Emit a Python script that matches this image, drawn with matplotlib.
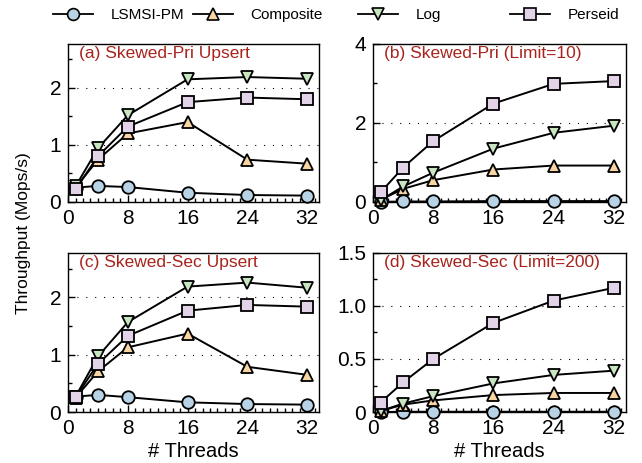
import matplotlib
matplotlib.use("Agg")
import matplotlib.pyplot as plt
from matplotlib.ticker import MultipleLocator, FuncFormatter
from matplotlib.lines import Line2D

plt.rcParams['font.family'] = ['Liberation Sans', 'DejaVu Sans']

# --- data ---
threads = [1, 4, 8, 16, 24, 32]
series_names = ['LSMSI-PM', 'Composite', 'Log', 'Perseid']

a_lsmsi = [0.25, 0.28, 0.26, 0.16, 0.12, 0.11]
a_comp = [0.25, 0.74, 1.20, 1.40, 0.74, 0.67]
a_log = [0.27, 0.94, 1.52, 2.15, 2.19, 2.16]
a_pers = [0.22, 0.80, 1.32, 1.75, 1.83, 1.80]

b_lsmsi = [0.0, 0.01, 0.01, 0.02, 0.02, 0.02]
b_comp = [0.05, 0.33, 0.55, 0.82, 0.92, 0.92]
b_log = [0.04, 0.39, 0.74, 1.35, 1.75, 1.93]
b_pers = [0.24, 0.87, 1.54, 2.49, 2.99, 3.06]

c_lsmsi = [0.27, 0.30, 0.26, 0.17, 0.14, 0.13]
c_comp = [0.25, 0.71, 1.13, 1.37, 0.79, 0.65]
c_log = [0.27, 0.97, 1.57, 2.19, 2.26, 2.17]
c_pers = [0.26, 0.84, 1.33, 1.77, 1.87, 1.84]

d_lsmsi = [0.0, 0.003, 0.003, 0.003, 0.003, 0.003]
d_comp = [0.01, 0.07, 0.11, 0.16, 0.18, 0.18]
d_log = [0.01, 0.08, 0.15, 0.27, 0.35, 0.39]
d_pers = [0.09, 0.28, 0.50, 0.84, 1.05, 1.17]

titles = ['(a) Skewed-Pri Upsert', '(b) Skewed-Pri (Limit=10)',
          '(c) Skewed-Sec Upsert', '(d) Skewed-Sec (Limit=200)']

# --- styles ---
markers = ['o', '^', 'v', 's']
faces = ['#b9d3e6', '#f8d5a3', '#c9e5c2', '#e3d3e8']

W, H = 642, 463
fig = plt.figure(figsize=(W / 100, H / 100), dpi=100)
boxes = [
    [0.106, 0.564, 0.391, 0.341],
    [0.581, 0.564, 0.394, 0.341],
    [0.106, 0.110, 0.391, 0.344],
    [0.581, 0.110, 0.394, 0.344],
]
panels = [
    (a_lsmsi, a_comp, a_log, a_pers),
    (b_lsmsi, b_comp, b_log, b_pers),
    (c_lsmsi, c_comp, c_log, c_pers),
    (d_lsmsi, d_comp, d_log, d_pers),
]
ylims = [2.77, 4.0, 2.78, 1.5]
ymajor = [1, 2, 1, 0.5]
yminor = [0.5, 1, 0.5, 0.25]


def fmt(v, pos, step):
    if abs(v) < 1e-9:
        return '0'
    if step < 1:
        return '%.1f' % v
    return '%d' % round(v)


for i in range(4):
    ax = fig.add_axes(boxes[i])
    for vals, m, fc in zip(panels[i], markers, faces):
        ax.plot(threads, vals, color='black', lw=1.4, marker=m, ms=9,
                mfc=fc, mec='black', mew=1.3, clip_on=False, zorder=3)
    ax.set_xlim(0, 33.6)
    ax.set_ylim(0, ylims[i])
    ax.xaxis.set_major_locator(MultipleLocator(8))
    ax.xaxis.set_minor_locator(MultipleLocator(1))
    ax.yaxis.set_major_locator(MultipleLocator(ymajor[i]))
    ax.yaxis.set_minor_locator(MultipleLocator(yminor[i]))
    ax.yaxis.set_major_formatter(FuncFormatter(lambda v, p, s=ymajor[i]: fmt(v, p, s)))
    ax.tick_params(which='both', direction='in', top=False, right=False,
                   labelsize=15)
    ax.tick_params(axis='x', pad=5)
    ax.tick_params(axis='y', pad=5)
    ax.tick_params(which='major', length=5, width=1)
    ax.tick_params(which='minor', length=3, width=1)
    ax.grid(axis='y', which='major', ls=(0, (1, 7)), color='black', lw=0.8)
    for sp in ax.spines.values():
        sp.set_linewidth(1.0)
    ax.text(0.044, 0.985, titles[i], transform=ax.transAxes, ha='left', va='top',
            color='#a8231c', fontsize=12.5)
    if i >= 2:
        ax.set_xlabel('# Threads', fontsize=14.5, labelpad=3)

fig.text(0.036, 0.497, 'Throughput (Mops/s)', rotation=90, ha='center',
         va='center', fontsize=12.5)

# legend: one entry per box, placed like the original key
key_x = [53, 193, 358, 510]
for name, m, fc, kx in zip(series_names, markers, faces, key_x):
    h = Line2D([], [], color='black', lw=1.3, marker=m, ms=8.5, mfc=fc,
               mec='black', mew=1.2)
    fig.legend([h], [name], loc='upper left', bbox_to_anchor=(kx / W, 1 - 8 / H),
               frameon=False, fontsize=11, handlelength=2.6, handletextpad=1.15,
               borderpad=0, borderaxespad=0)

fig.savefig('out.png', dpi=100)
